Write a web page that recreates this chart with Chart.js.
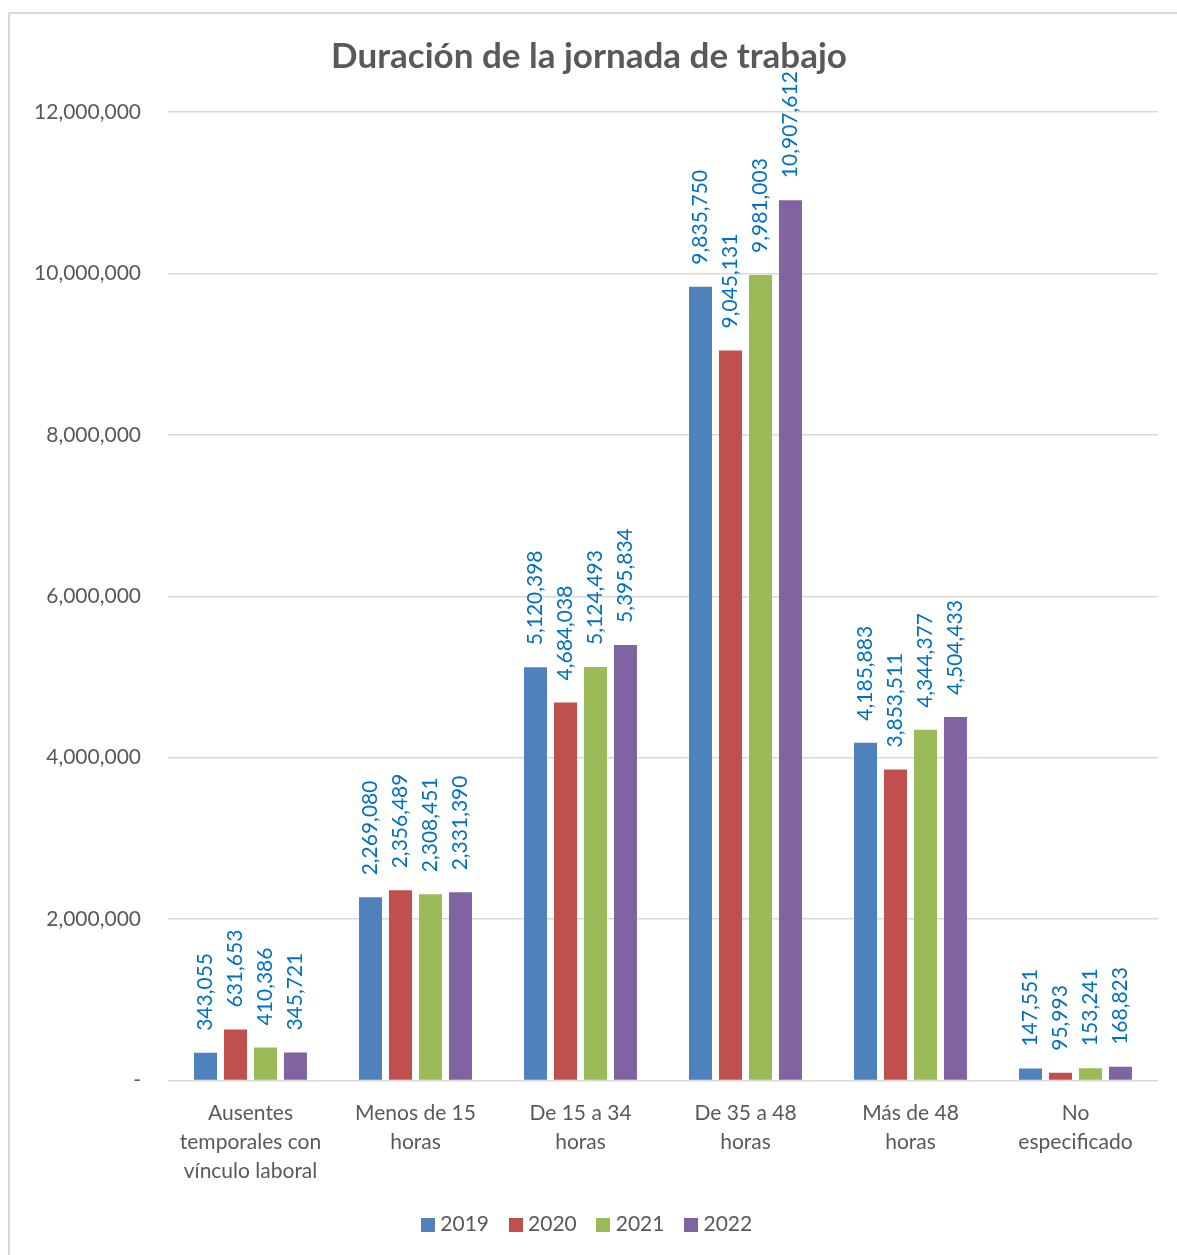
<!DOCTYPE html>
<html>
<head>
<meta charset="utf-8">
<script src="https://cdn.jsdelivr.net/npm/chart.js@4"></script>
<style>
  html, body { margin: 0; padding: 0; background: #ffffff; }
  canvas { display: block; }
</style>
</head>
<body>
<canvas id="c" width="1177" height="1255"></canvas>
<script>
const categories = [
  ["Ausentes", "temporales con", "vínculo laboral"],
  ["Menos de 15", "horas"],
  ["De 15 a 34", "horas"],
  ["De 35 a 48", "horas"],
  ["Más de 48", "horas"],
  ["No", "especificado"]
];
const seriesNames = ["2019", "2020", "2021", "2022"];
const values2019 = [343055, 2269080, 5120398, 9835750, 4185883, 147551];
const values2020 = [631653, 2356489, 4684038, 9045131, 3853511, 95993];
const values2021 = [410386, 2308451, 5124493, 9981003, 4344377, 153241];
const values2022 = [345721, 2331390, 5395834, 10907612, 4504433, 168823];
const yTicks = [0, 2000000, 4000000, 6000000, 8000000, 10000000, 12000000];

const colors = ["#4F81BD", "#C0504D", "#9BBB59", "#8064A2"];
const FONT = "Lato, 'Open Sans', sans-serif";
const fmt = v => v.toLocaleString("en-US");

function swatch(color) {
  const c = document.createElement("canvas");
  c.width = 14; c.height = 14;
  const g = c.getContext("2d");
  g.fillStyle = color;
  g.fillRect(0, 0, 14, 14);
  return c;
}
const swatches = colors.map(swatch);

const frame = {
  id: "frame",
  beforeDraw(chart) {
    const ctx = chart.ctx;
    ctx.save();
    ctx.fillStyle = "#ffffff";
    ctx.fillRect(0, 0, chart.width, chart.height);
    ctx.strokeStyle = "#d9d9d9";
    ctx.lineWidth = 2;
    ctx.strokeRect(9, 13, chart.width + 20, chart.height + 20);
    ctx.restore();
  }
};

const labels = {
  id: "valueLabels",
  afterDatasetsDraw(chart) {
    const ctx = chart.ctx;
    ctx.save();
    ctx.fillStyle = "#0070C0";
    ctx.font = "21px " + FONT;
    ctx.textAlign = "left";
    ctx.textBaseline = "middle";
    chart.data.datasets.forEach((ds, i) => {
      const meta = chart.getDatasetMeta(i);
      meta.data.forEach((bar, j) => {
        ctx.save();
        ctx.translate(bar.x, bar.y - 22);
        ctx.rotate(-Math.PI / 2);
        ctx.fillText(fmt(ds.data[j]), 0, 0);
        ctx.restore();
      });
    });
    ctx.restore();
  }
};

const allSeries = [values2019, values2020, values2021, values2022];

new Chart(document.getElementById("c"), {
  type: "bar",
  data: {
    labels: categories,
    datasets: allSeries.map((d, i) => ({
      label: seriesNames[i],
      data: d,
      backgroundColor: colors[i],
      borderWidth: 0,
      barPercentage: 0.767,
      categoryPercentage: 0.727
    }))
  },
  options: {
    responsive: false,
    animation: false,
    devicePixelRatio: 1,
    layout: { padding: { left: 20, right: 19, top: 0, bottom: 10 } },
    plugins: {
      title: {
        display: true,
        text: "Duración de la jornada de trabajo",
        color: "#595959",
        font: { family: FONT, size: 35, weight: "bold" },
        padding: { top: 36, bottom: 34 }
      },
      legend: {
        position: "bottom",
        labels: {
          color: "#595959",
          font: { family: FONT, size: 21 },
          usePointStyle: true,
          pointStyleWidth: 4,
          boxHeight: 14,
          padding: 24.5,
          generateLabels(chart) {
            const items = Chart.defaults.plugins.legend.labels.generateLabels(chart);
            items.forEach((it, i) => { it.pointStyle = swatches[i]; });
            return items;
          }
        }
      },
      tooltip: { enabled: false }
    },
    scales: {
      x: {
        grid: { display: false },
        border: { display: false },
        ticks: {
          color: "#595959",
          font: { family: FONT, size: 21, lineHeight: 1.38 },
          maxRotation: 0,
          minRotation: 0,
          padding: 10
        },
        afterFit(scale) { scale.height = 109; }
      },
      y: {
        min: 0,
        max: 12000000,
        afterBuildTicks(scale) { scale.ticks = yTicks.map(v => ({ value: v })); },
        grid: { color: "#d9d9d9", lineWidth: 1.5, drawTicks: false },
        border: { display: false },
        ticks: {
          color: "#595959",
          font: { family: FONT, size: 21 },
          padding: 27,
          callback: v => v === 0 ? "-" : fmt(v)
        },
        afterFit(scale) { scale.width = 148; }
      }
    }
  },
  plugins: [frame, labels]
});
</script>
</body>
</html>
